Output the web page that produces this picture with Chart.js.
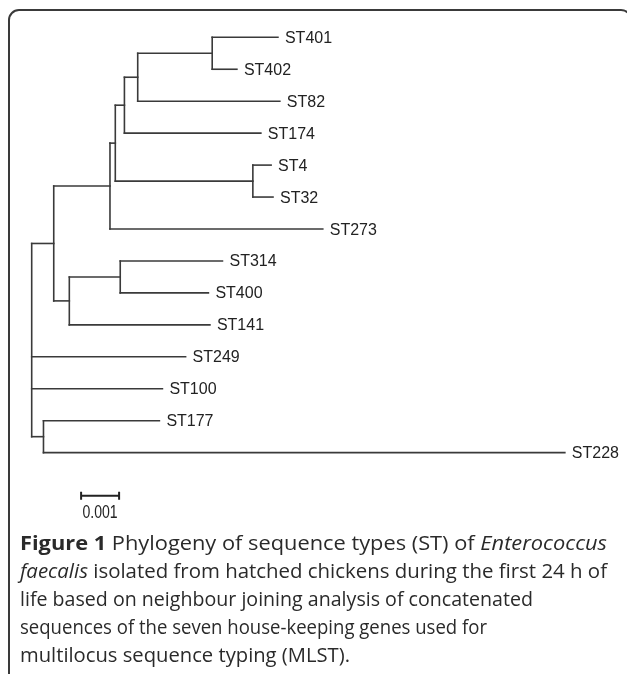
<!DOCTYPE html>
<html><head><meta charset="utf-8">
<script src="https://cdn.jsdelivr.net/npm/chart.js@4/dist/chart.umd.min.js"></script>
<style>
html,body{margin:0;padding:0;background:#fff;width:627px;height:674px;overflow:hidden;}
#wrap{position:relative;width:627px;height:674px;}
#frame{position:absolute;left:8px;top:9px;width:624px;height:720px;border:2px solid #3a3a3a;border-top-left-radius:11px;border-top-right-radius:11px;box-sizing:border-box;}
#c{position:absolute;left:0;top:0;}
#caption{position:absolute;left:20px;top:529px;font-family:"Open Sans",sans-serif;font-size:19.5px;font-weight:500;line-height:28px;color:#2a2a2a;white-space:nowrap;}
#caption span{display:inline-block;transform-origin:0 50%;}
#caption b{font-weight:700;}
</style></head>
<body><div id="wrap"><div id="frame"></div><canvas id="c" width="627" height="674"></canvas>
<div id="caption"><span data-w="587"><b>Figure 1</b> Phylogeny of sequence types (ST) of <i>Enterococcus</i></span><br><span data-w="587"><i>faecalis</i> isolated from hatched chickens during the first 24 h of</span><br><span data-w="513">life based on neighbour joining analysis of concatenated</span><br><span data-w="467">sequences of the seven house-keeping genes used for</span><br><span data-w="330">multilocus sequence typing (MLST).</span></div></div>
<script>
// Leaves (top to bottom), their parent node and cumulative distance from root
const leafNames  = ["ST401","ST402","ST82","ST174","ST4","ST32","ST273","ST314","ST400","ST141","ST249","ST100","ST177","ST228"];
const leafParent = ["A","A","B","C","D","D","F","G","G","H","root","root","J","J"];
const leafDepth  = [0.00648,0.00540,0.00653,0.00603,0.00630,0.00635,0.00766,0.00502,0.00465,0.00469,0.00405,0.00344,0.00336,0.01403];
// Internal nodes
const innerNames  = ["root","I","F","E","C","B","A","D","H","G","J"];
const innerParent = [null,"root","I","F","E","C","B","E","I","H","root"];
const innerDepth  = [0,0.00058,0.00206,0.00220,0.00244,0.00279,0.00475,0.00582,0.00099,0.00233,0.00031];
// Scale bar
const scaleBarValue = 0.001;
const scaleBarLabel = "0.001";

// fit caption lines to the widths seen in the figure
document.querySelectorAll('#caption span').forEach(s=>{ const w=s.getBoundingClientRect().width; s.style.transform='scaleX('+(parseFloat(s.dataset.w)/w)+')'; });

const nodes = {};
innerNames.forEach((n,i)=>nodes[n]={name:n,parent:innerParent[i],depth:innerDepth[i],children:[],leaf:false});
leafNames.forEach((n,i)=>nodes[n]={name:n,parent:leafParent[i],depth:leafDepth[i],children:[],leaf:true,y:i});
Object.values(nodes).forEach(n=>{ if(n.parent) nodes[n.parent].children.push(n); });
function yOf(n){ if(n.leaf) return n.y; if(n.y===undefined){ const ys=n.children.map(yOf); n.ymin=Math.min(...ys); n.ymax=Math.max(...ys); n.y=(n.ymin+n.ymax)/2; } return n.y; }
yOf(nodes.root);

const lineColor = "#3a3a3a";
const datasets = [];
function seg(a,b){ datasets.push({data:[a,b],showLine:true,borderColor:lineColor,borderWidth:1.6,pointRadius:0,borderCapStyle:'square',fill:false}); }
Object.values(nodes).forEach(n=>{
  if(n.parent){ const p=nodes[n.parent]; seg({x:p.depth,y:n.y},{x:n.depth,y:n.y}); }
  if(!n.leaf){ seg({x:n.depth,y:n.ymin},{x:n.depth,y:n.ymax}); }
});

const PX_PER_UNIT = 38000, ROOT_PX = 31.7, TOP_PX = 37.3, ROW_PX = 31.95;
const labelPlugin = {
  id:'labels',
  afterDatasetsDraw(chart){
    const ctx=chart.ctx, xs=chart.scales.x, ys=chart.scales.y;
    ctx.save();
    ctx.fillStyle="#222"; ctx.font="16px 'Liberation Sans', Arial, sans-serif"; ctx.textBaseline="alphabetic"; ctx.textAlign="left";
    leafNames.forEach((nm,i)=>{ ctx.fillText(nm, xs.getPixelForValue(leafDepth[i])+7, ys.getPixelForValue(i)+5.5); });
    // scale bar
    const x0=xs.getPixelForValue(0.0013), x1=xs.getPixelForValue(0.0013+scaleBarValue), y=ys.getPixelForValue(14.35);
    ctx.strokeStyle="#222"; ctx.lineWidth=2;
    ctx.beginPath(); ctx.moveTo(x0,y); ctx.lineTo(x1,y); ctx.moveTo(x0,y-4); ctx.lineTo(x0,y+4); ctx.moveTo(x1,y-4); ctx.lineTo(x1,y+4); ctx.stroke();
    ctx.font="18px 'Liberation Sans', Arial, sans-serif"; ctx.textAlign="center";
    ctx.translate((x0+x1)/2, y+22); ctx.scale(0.78,1);
    ctx.fillText(scaleBarLabel,0,0);
    ctx.restore();
  }
};

new Chart(document.getElementById('c'),{
  type:'scatter',
  data:{datasets},
  options:{
    responsive:false, animation:false, devicePixelRatio:1,
    layout:{padding:0},
    plugins:{legend:{display:false},tooltip:{enabled:false}},
    scales:{
      x:{type:'linear',display:false,min:-ROOT_PX/PX_PER_UNIT,max:(627-ROOT_PX)/PX_PER_UNIT},
      y:{type:'linear',display:false,reverse:true,min:-TOP_PX/ROW_PX,max:(674-TOP_PX)/ROW_PX}
    }
  },
  plugins:[labelPlugin]
});
</script></body></html>
